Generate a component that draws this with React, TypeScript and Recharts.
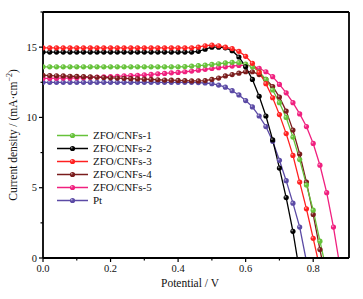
import React from 'react';
import { LineChart, Line, XAxis, YAxis, ReferenceLine, Legend } from 'recharts';

const potential = [
  0, 0.02, 0.04, 0.06, 0.08, 0.1, 0.12, 0.14, 0.16, 0.18, 0.2, 0.22, 0.24, 0.26, 0.28, 0.3,
  0.32, 0.34, 0.36, 0.38, 0.4, 0.42, 0.44, 0.46, 0.48, 0.5, 0.52, 0.54, 0.56, 0.58, 0.6,
  0.62, 0.64, 0.66, 0.68, 0.7, 0.72, 0.74, 0.76, 0.78, 0.8, 0.82, 0.84, 0.86,
];

const zfo1 = [
  13.6, 13.6, 13.6, 13.6, 13.6, 13.6, 13.6, 13.6, 13.6, 13.6, 13.6, 13.6, 13.6, 13.6, 13.6, 13.6,
  13.6, 13.6, 13.6, 13.6, 13.6, 13.62, 13.65, 13.68, 13.72, 13.77, 13.82, 13.88, 13.92, 13.9, 13.8,
  13.6, 13.25, 12.7, 11.95, 11.05, 10.0, 8.6, 7.0, 5.2, 3.4, 1.2,
];
const zfo2 = [
  14.65, 14.65, 14.65, 14.65, 14.65, 14.65, 14.65, 14.65, 14.65, 14.65, 14.65, 14.65, 14.65, 14.65,
  14.65, 14.65, 14.65, 14.65, 14.65, 14.65, 14.65, 14.65, 14.65, 14.7, 14.85, 15.0, 15.0, 14.95,
  14.75, 14.3, 13.6, 12.7, 11.5, 10.1, 8.4, 6.4, 4.3, 1.9,
];
const zfo3 = [
  14.95, 14.95, 14.95, 14.95, 14.95, 14.95, 14.95, 14.95, 14.95, 14.95, 14.95, 14.95, 14.95, 14.95,
  14.95, 14.95, 14.95, 14.95, 14.95, 14.95, 14.95, 14.95, 14.95, 15.0, 15.1, 15.15, 15.1, 15.0,
  14.9, 14.7, 14.35, 13.85, 13.2, 12.4, 11.4, 10.2, 8.85, 7.3, 5.4, 3.5, 1.4,
];
const zfo4 = [
  13.0, 12.98, 12.96, 12.95, 12.93, 12.92, 12.9, 12.88, 12.86, 12.84, 12.82, 12.8, 12.78, 12.76,
  12.74, 12.72, 12.7, 12.68, 12.66, 12.65, 12.63, 12.62, 12.6, 12.6, 12.62, 12.7, 12.8, 12.95,
  13.05, 13.15, 13.25, 13.25, 13.05, 12.7, 12.2, 11.45, 10.45, 9.1, 7.4, 5.4, 3.1, 0.6,
];
const zfo5 = [
  12.78, 12.78, 12.79, 12.8, 12.8, 12.82, 12.83, 12.85, 12.87, 12.88, 12.9, 12.92, 12.95, 12.98,
  13.0, 13.03, 13.06, 13.1, 13.13, 13.17, 13.2, 13.25, 13.3, 13.36, 13.42, 13.48, 13.54, 13.6,
  13.65, 13.7, 13.72, 13.65, 13.5, 13.25, 12.9, 12.35, 11.75, 11.05, 10.25, 9.35, 8.15, 6.6,
  4.65, 2.2,
];
const pt = [
  12.5, 12.5, 12.5, 12.5, 12.5, 12.5, 12.5, 12.5, 12.5, 12.5, 12.5, 12.5, 12.5, 12.5, 12.5, 12.5,
  12.5, 12.5, 12.5, 12.5, 12.5, 12.5, 12.5, 12.48, 12.45, 12.4, 12.3, 12.15, 11.9, 11.6, 11.2,
  10.75, 10.1, 9.35, 8.3, 6.95, 5.5, 3.9, 2.2,
];

const seriesNames = ['ZFO/CNFs-1', 'ZFO/CNFs-2', 'ZFO/CNFs-3', 'ZFO/CNFs-4', 'ZFO/CNFs-5', 'Pt'];
const seriesColors = ['#66c23a', '#000000', '#ff2020', '#7a1c1c', '#f0207f', '#5b4aa5'];
const seriesValues = [zfo1, zfo2, zfo3, zfo4, zfo5, pt];
const seriesVoc = [0.831, 0.753, 0.813, 0.825, 0.875, 0.778];
const drawOrder = [5, 4, 3, 0, 1, 2];

const xTicks = [0, 0.1, 0.2, 0.3, 0.4, 0.5, 0.6, 0.7, 0.8];
const xMajor = [0, 0.2, 0.4, 0.6, 0.8];
const yTicks = [0, 2.5, 5, 7.5, 10, 12.5, 15, 17.5];
const yMajor = [0, 5, 10, 15];

const X_MAX = 0.906;
const Y_MAX = 17.5;
const FONT = '"Liberation Serif", "Times New Roman", serif';

function build(vals: number[], voc: number) {
  const pts = vals.map((j, i) => ({ v: potential[i], j, m: true }));
  pts.push({ v: voc, j: 0, m: false });
  return pts;
}

const makeDot = (color: string) => (props: any) => {
  const { cx, cy, payload, index } = props;
  if (!payload || !payload.m || cx == null || cy == null) return <g key={`d-${index}`} />;
  return (
    <g key={`d-${index}`}>
      <circle cx={cx} cy={cy} r={2.6} fill={color} />
      <circle cx={cx - 0.8} cy={cy - 0.8} r={0.9} fill="#ffffff" fillOpacity={0.5} />
    </g>
  );
};

const XTick = (props: any) => {
  const { x, y, payload } = props;
  const major = xMajor.some((t) => Math.abs(t - payload.value) < 1e-6);
  return (
    <g>
      <line x1={x} y1={y} x2={x} y2={y + (major ? 4 : 2.5)} stroke="#000" strokeWidth={1.2} />
      {major && (
        <text x={x} y={y + 14} textAnchor="middle" fontSize={10.5} fontFamily={FONT} fill="#111">
          {payload.value.toFixed(1)}
        </text>
      )}
    </g>
  );
};

const YTick = (props: any) => {
  const { x, y, payload } = props;
  const major = yMajor.includes(payload.value);
  return (
    <g>
      <line x1={x} y1={y} x2={x - (major ? 4 : 2.5)} y2={y} stroke="#000" strokeWidth={1.2} />
      {major && (
        <text x={x - 6} y={y + 3.6} textAnchor="end" fontSize={10.5} fontFamily={FONT} fill="#111">
          {payload.value}
        </text>
      )}
    </g>
  );
};

const LegendContent = () => (
  <div style={{ fontFamily: FONT, fontSize: 11, color: '#111' }}>
    {seriesNames.map((name, i) => (
      <div key={name} style={{ display: 'flex', alignItems: 'center', height: 13 }}>
        <svg width={33} height={13} style={{ display: 'block' }}>
          <line x1={1} y1={6.5} x2={32} y2={6.5} stroke={seriesColors[i]} strokeWidth={1.5} />
          <circle cx={16.5} cy={6.5} r={2.6} fill={seriesColors[i]} />
          <circle cx={15.7} cy={5.7} r={0.9} fill="#fff" fillOpacity={0.5} />
        </svg>
        <span style={{ marginLeft: 4, lineHeight: '13px', whiteSpace: 'nowrap' }}>{name}</span>
      </div>
    ))}
  </div>
);

export default function App() {
  return (
    <div style={{ position: 'absolute', left: 0, top: 0, width: 363, height: 299, background: '#fff' }}>
      <LineChart width={363} height={299} margin={{ top: 12, right: 14, bottom: 0, left: 0 }}>
        <XAxis
          dataKey="v"
          type="number"
          domain={[0, X_MAX]}
          ticks={xTicks}
          interval={0}
          allowDataOverflow
          tickLine={false}
          tickSize={0}
          tickMargin={0}
          tick={<XTick />}
          axisLine={{ stroke: '#000', strokeWidth: 1.8 }}
          height={41}
          label={{
            content: () => (
              <text x={190} y={287} textAnchor="middle" fontSize={11.5} fontFamily={FONT} fill="#111">
                Potential / V
              </text>
            ),
          }}
        />
        <YAxis
          type="number"
          domain={[0, Y_MAX]}
          ticks={yTicks}
          interval={0}
          allowDataOverflow
          tickLine={false}
          tickSize={0}
          tickMargin={0}
          tick={<YTick />}
          axisLine={{ stroke: '#000', strokeWidth: 1.8 }}
          width={43}
          label={{
            content: () => (
              <text
                x={13}
                y={135}
                transform="rotate(-90 13 135)"
                textAnchor="middle"
                dominantBaseline="central"
                fontSize={11.5}
                fontFamily={FONT}
                fill="#111"
              >
                Current density / (mA·cm
                <tspan dy={-4} fontSize={8}>−2</tspan>
                <tspan dy={4}>)</tspan>
              </text>
            ),
          }}
        />
        <ReferenceLine y={Y_MAX} stroke="#000" strokeWidth={1.8} ifOverflow="extendDomain" />
        <ReferenceLine x={X_MAX} stroke="#000" strokeWidth={1.8} ifOverflow="extendDomain" />
        {drawOrder.map((i) => (
          <Line
            key={seriesNames[i]}
            data={build(seriesValues[i], seriesVoc[i])}
            dataKey="j"
            name={seriesNames[i]}
            type="linear"
            stroke={seriesColors[i]}
            strokeWidth={1.3}
            dot={makeDot(seriesColors[i])}
            activeDot={false}
            isAnimationActive={false}
          />
        ))}
        <Legend
          layout="vertical"
          align="center"
          verticalAlign="middle"
          content={<LegendContent />}
          wrapperStyle={{ position: 'absolute', left: 56, top: 129, width: 120, bottom: 'auto', right: 'auto' }}
        />
      </LineChart>
    </div>
  );
}
